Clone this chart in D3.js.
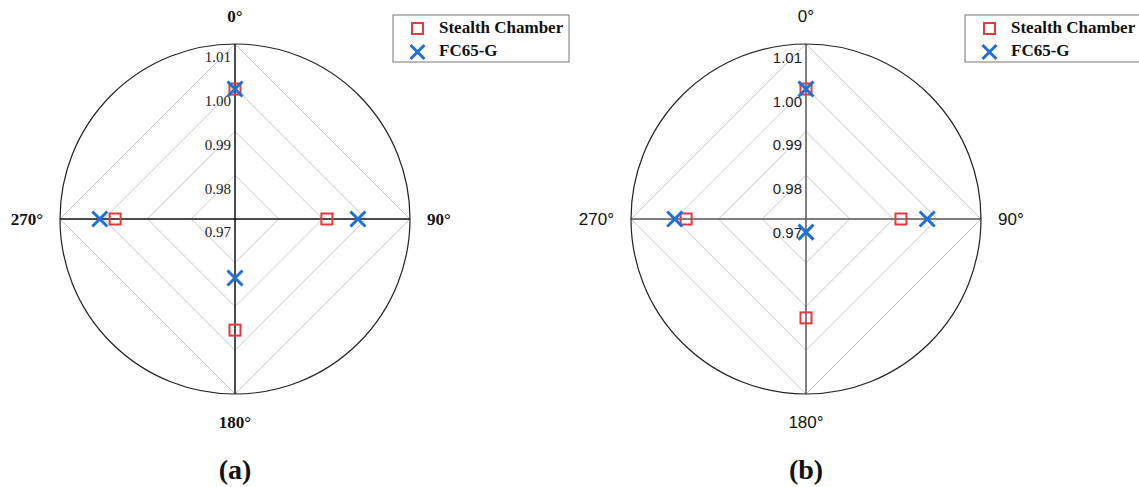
<!DOCTYPE html>
<html>
<head>
<meta charset="utf-8">
<script src="https://cdn.jsdelivr.net/npm/d3@7"></script>
<style>
    html, body { margin: 0; padding: 0; background: #fff; }
    #page { width: 1139px; height: 487px; }
</style>
</head>
<body>
<div id="page"></div>
<script>
// data
const angles = [0, 90, 180, 270];
const angle_labels = ["0°", "90°", "180°", "270°"];
const radial_ticks = [0.97, 0.98, 0.99, 1.00, 1.01];
const series_names = ["Stealth Chamber", "FC65-G"];

const stealth_a = [0.9997, 0.9910, 0.9954, 0.9974];
const fc65_a = [0.9997, 0.9981, 0.9835, 1.0009];
const stealth_b = [0.9997, 0.9917, 0.9926, 0.9974];
const fc65_b = [0.9997, 0.9977, 0.9730, 1.0000];

// cons
const w = 1139;
const h = 487;
const radius = 175;
const red = "#e8383d";
const blue = "#1f6fd8";
const serif = "'Liberation Serif', 'Times New Roman', serif";
const sans = "'Liberation Sans', Arial, sans-serif";

const svg = d3.select("#page")
    .append("svg")
    .attr("width", w)
    .attr("height", h);

const panels = [
    { cx: 235, cy: 219, stealth: stealth_a, fc65: fc65_a, font: serif, weight: "bold", axis_color: "#111", tag: "(a)", legend_x: 393 },
    { cx: 806, cy: 219, stealth: stealth_b, fc65: fc65_b, font: sans, weight: "normal", axis_color: "#555", tag: "(b)", legend_x: 965 }
];

// radial scale, center is the lowest tick
const r = d3.scaleLinear()
    .domain([radial_ticks[0], radial_ticks[radial_ticks.length - 1]])
    .range([0, radius]);

const to_rad = (deg) => deg * Math.PI / 180;

// polar to x,y, 0 on top, clockwise
function polar(cx, cy, deg, value) {
    const a = to_rad(deg);
    return [cx + r(value) * Math.sin(a), cy - r(value) * Math.cos(a)];
}

const cross = (x, y, s) => `M${x - s},${y - s}L${x + s},${y + s}M${x - s},${y + s}L${x + s},${y - s}`;

panels.forEach((p) => {
    const g = svg.append("g");

    // diamond grid
    radial_ticks.slice(1).forEach((t) => {
        const line = d3.lineRadial()
            .angle((d) => to_rad(d))
            .radius(() => r(t))
            .curve(d3.curveLinearClosed);
        g.append("path")
            .attr("transform", `translate(${p.cx},${p.cy})`)
            .attr("d", line(angles))
            .attr("fill", "none")
            .attr("stroke", "#c8c8c8")
            .attr("stroke-width", 1);
    });

    // spokes
    [[0, 180], [90, 270]].forEach(([a1, a2]) => {
        const p1 = polar(p.cx, p.cy, a1, radial_ticks[4]);
        const p2 = polar(p.cx, p.cy, a2, radial_ticks[4]);
        g.append("line")
            .attr("x1", p1[0]).attr("y1", p1[1])
            .attr("x2", p2[0]).attr("y2", p2[1])
            .attr("stroke", p.axis_color)
            .attr("stroke-width", 1.5);
    });

    // outer circle
    g.append("circle")
        .attr("cx", p.cx)
        .attr("cy", p.cy)
        .attr("r", r(radial_ticks[4]))
        .attr("fill", "none")
        .attr("stroke", "#222")
        .attr("stroke-width", 1.2);

    // radial tick labels
    g.selectAll(".tick-label")
        .data(radial_ticks)
        .join("text")
        .attr("x", p.cx - 4)
        .attr("y", (d) => p.cy - r(d) + 15)
        .attr("text-anchor", "end")
        .attr("dominant-baseline", "middle")
        .attr("font-family", p.font)
        .attr("font-size", 15)
        .attr("fill", "#222")
        .text((d) => d.toFixed(2));

    // angle labels
    const label_pos = [
        { x: p.cx, y: p.cy - radius - 26, anchor: "middle" },
        { x: p.cx + radius + 17, y: p.cy + 2, anchor: "start" },
        { x: p.cx, y: p.cy + radius + 30, anchor: "middle" },
        { x: p.cx - radius - 17, y: p.cy + 2, anchor: "end" }
    ];
    g.selectAll(".angle-label")
        .data(angle_labels)
        .join("text")
        .attr("x", (d, i) => label_pos[i].x)
        .attr("y", (d, i) => label_pos[i].y)
        .attr("text-anchor", (d, i) => label_pos[i].anchor)
        .attr("dominant-baseline", "middle")
        .attr("font-family", p.font)
        .attr("font-weight", p.weight)
        .attr("font-size", 17)
        .attr("fill", "#111")
        .text((d) => d);

    // stealth chamber, squares
    g.selectAll(".stealth")
        .data(p.stealth)
        .join("rect")
        .attr("x", (d, i) => polar(p.cx, p.cy, angles[i], d)[0] - 5.5)
        .attr("y", (d, i) => polar(p.cx, p.cy, angles[i], d)[1] - 5.5)
        .attr("width", 11)
        .attr("height", 11)
        .attr("fill", "none")
        .attr("stroke", red)
        .attr("stroke-width", 2);

    // fc65-g, crosses
    g.selectAll(".fc65")
        .data(p.fc65)
        .join("path")
        .attr("d", (d, i) => {
            const [x, y] = polar(p.cx, p.cy, angles[i], d);
            return cross(x, y, 7.5);
        })
        .attr("fill", "none")
        .attr("stroke", blue)
        .attr("stroke-width", 3);

    // legend
    const lg = g.append("g").attr("transform", `translate(${p.legend_x},15)`);
    lg.append("rect")
        .attr("width", 176)
        .attr("height", 47)
        .attr("fill", "#fff")
        .attr("stroke", "#777")
        .attr("stroke-width", 1);
    lg.append("rect")
        .attr("x", 19).attr("y", 8)
        .attr("width", 11).attr("height", 11)
        .attr("fill", "none")
        .attr("stroke", red)
        .attr("stroke-width", 2);
    lg.append("path")
        .attr("d", cross(24.5, 37, 7))
        .attr("fill", "none")
        .attr("stroke", blue)
        .attr("stroke-width", 3);
    lg.selectAll(".legend-text")
        .data(series_names)
        .join("text")
        .attr("x", 46)
        .attr("y", (d, i) => 14 + i * 23)
        .attr("dominant-baseline", "middle")
        .attr("font-family", serif)
        .attr("font-weight", "bold")
        .attr("font-size", 17)
        .attr("fill", "#111")
        .text((d) => d);

    // panel tag
    g.append("text")
        .attr("x", p.cx)
        .attr("y", 473)
        .attr("text-anchor", "middle")
        .attr("dominant-baseline", "middle")
        .attr("font-family", serif)
        .attr("font-weight", "bold")
        .attr("font-size", 28)
        .attr("fill", "#111")
        .text(p.tag);
});
</script>
</body>
</html>
